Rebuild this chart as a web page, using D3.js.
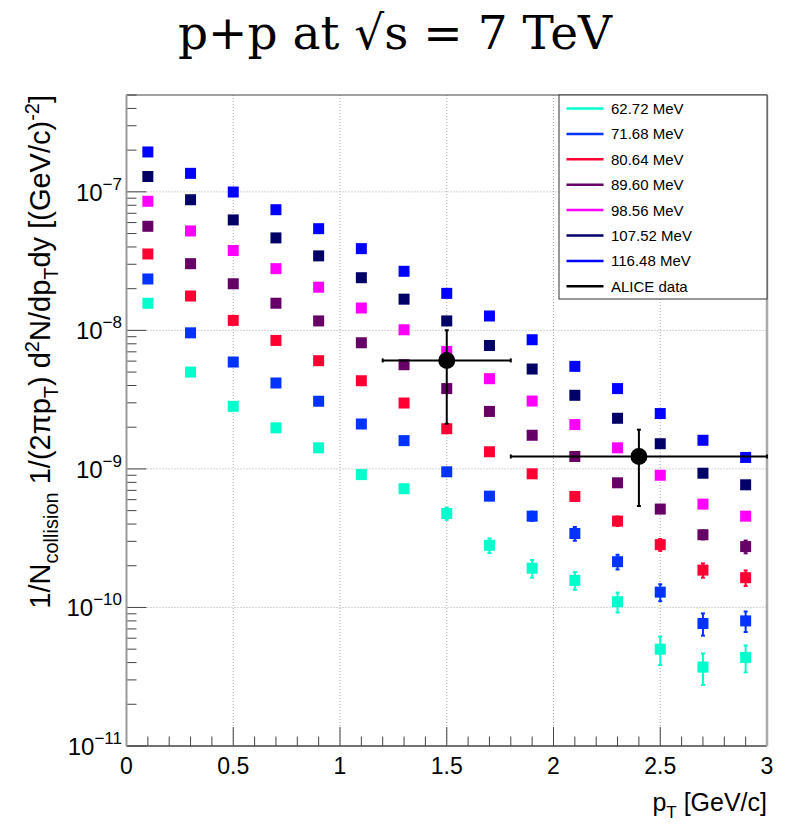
<!DOCTYPE html>
<html>
<head>
<meta charset="utf-8">
<script src="https://cdn.jsdelivr.net/npm/d3@7"></script>
<style>
  html, body { margin: 0; padding: 0; background: #fff; }
  svg { display: block; }
</style>
</head>
<body>
<div id="chart"></div>
<script>
// pT bin centres [GeV/c]
const pt = [0.1, 0.3, 0.5, 0.7, 0.9, 1.1, 1.3, 1.5, 1.7, 1.9, 2.1, 2.3, 2.5, 2.7, 2.9];

const labels = ["62.72 MeV", "71.68 MeV", "80.64 MeV", "89.60 MeV", "98.56 MeV", "107.52 MeV", "116.48 MeV"];
const colors = ["#00ffcc", "#0033ff", "#ff0033", "#660066", "#ff00ff", "#000066", "#0000ff"];

// yields per temperature
const y6272 = [1.57e-8, 5.0e-9, 2.83e-9, 1.98e-9, 1.42e-9, 9.1e-10, 7.19e-10, 4.77e-10, 2.81e-10, 1.92e-10, 1.57e-10, 1.10e-10, 5.0e-11, 3.71e-11, 4.36e-11];
const y7168 = [2.35e-8, 9.6e-9, 5.91e-9, 4.17e-9, 3.08e-9, 2.11e-9, 1.60e-9, 9.53e-10, 6.36e-10, 4.56e-10, 3.42e-10, 2.14e-10, 1.29e-10, 7.66e-11, 8.0e-11];
const y8064 = [3.56e-8, 1.77e-8, 1.18e-8, 8.46e-9, 6.04e-9, 4.33e-9, 2.99e-9, 1.95e-9, 1.33e-9, 9.22e-10, 6.33e-10, 4.20e-10, 2.84e-10, 1.86e-10, 1.64e-10];
const y8960 = [5.64e-8, 3.03e-8, 2.17e-8, 1.57e-8, 1.17e-8, 8.14e-9, 5.65e-9, 3.80e-9, 2.60e-9, 1.75e-9, 1.23e-9, 7.94e-10, 5.13e-10, 3.35e-10, 2.75e-10];
const y9856 = [8.55e-8, 5.22e-8, 3.77e-8, 2.79e-8, 2.05e-8, 1.45e-8, 1.01e-8, 7.05e-9, 4.48e-9, 3.09e-9, 2.09e-9, 1.42e-9, 9.0e-10, 5.57e-10, 4.56e-10];
const y10752 = [1.29e-7, 8.77e-8, 6.27e-8, 4.65e-8, 3.45e-8, 2.40e-8, 1.68e-8, 1.17e-8, 7.78e-9, 5.26e-9, 3.40e-9, 2.32e-9, 1.52e-9, 9.31e-10, 7.68e-10];
const y11648 = [1.94e-7, 1.36e-7, 9.97e-8, 7.43e-8, 5.42e-8, 3.89e-8, 2.67e-8, 1.85e-8, 1.27e-8, 8.56e-9, 5.50e-9, 3.80e-9, 2.51e-9, 1.61e-9, 1.21e-9];

// statistical errors (absolute)
const e6272 = [1.6e-10, 1.0e-10, 8.5e-11, 6e-11, 5.7e-11, 4.6e-11, 4.3e-11, 4.8e-11, 3.4e-11, 2.8e-11, 2.3e-11, 1.8e-11, 1.15e-11, 9.5e-12, 9.6e-12];
const e7168 = [2e-10, 1.2e-10, 1e-10, 9e-11, 8e-11, 6e-11, 5.5e-11, 4.5e-11, 4e-11, 3.5e-11, 3.9e-11, 2.6e-11, 1.8e-11, 1.4e-11, 1.35e-11];
const e8064 = [2.5e-10, 1.7e-10, 1.4e-10, 1.2e-10, 1e-10, 8.5e-11, 7e-11, 5.5e-11, 4.5e-11, 4e-11, 3.5e-11, 3.3e-11, 2.8e-11, 2.2e-11, 2.1e-11];
const e8960 = [3e-10, 2.2e-10, 1.9e-10, 1.6e-10, 1.4e-10, 1.2e-10, 1e-10, 8e-11, 6.5e-11, 5.5e-11, 4.5e-11, 3.7e-11, 3e-11, 2.5e-11, 2.9e-11];
const e9856 = [4e-10, 3e-10, 2.5e-10, 2.1e-10, 1.8e-10, 1.5e-10, 1.2e-10, 1e-10, 8e-11, 6.5e-11, 5.5e-11, 4.5e-11, 3.8e-11, 3e-11, 2.8e-11];
const e10752 = [5e-10, 4e-10, 3.3e-10, 2.8e-10, 2.4e-10, 2e-10, 1.7e-10, 1.4e-10, 1.1e-10, 9e-11, 7e-11, 6e-11, 5e-11, 4e-11, 3.6e-11];
const e11648 = [6e-10, 5e-10, 4e-10, 3.4e-10, 2.9e-10, 2.4e-10, 2e-10, 1.7e-10, 1.4e-10, 1.1e-10, 9e-11, 7.5e-11, 6e-11, 4.8e-11, 4.2e-11];

// ALICE measurement
const alicePt = [1.5, 2.4];
const alicePtErr = [0.3, 0.6];
const aliceY = [6.07e-9, 1.23e-9];
const aliceYErr = [3.95e-9, 6.9e-10];

const xTicks = [0, 0.5, 1, 1.5, 2, 2.5, 3];
const yDecades = [-11, -10, -9, -8, -7];

const yields = [y6272, y7168, y8064, y8960, y9856, y10752, y11648];
const errors = [e6272, e7168, e8064, e8960, e9856, e10752, e11648];
const series = yields.map((vals, i) => ({
  label: labels[i],
  color: colors[i],
  points: pt.map((x, j) => ({ x, y: vals[j], e: errors[i][j] }))
}));

const width = 785, height = 824;
const margin = { top: 95, right: 18, bottom: 78, left: 126.5 };
const fontSans = "'Liberation Sans', Arial, sans-serif";

const svg = d3.select("#chart").append("svg")
  .attr("width", width)
  .attr("height", height);

const x = d3.scaleLinear().domain([0, 3]).range([margin.left, width - margin.right]);
const y = d3.scaleLog().domain([1e-11, 5e-7]).range([height - margin.bottom, margin.top]);
const [x0, x1] = x.range();
const [yb, yt] = y.range();

// Title
svg.append("text")
  .attr("x", 395).attr("y", 49)
  .attr("text-anchor", "middle")
  .style("font-family", "'DejaVu Serif', serif")
  .style("font-size", "47px")
  .text("p+p at \u221As = 7 TeV");

// Gridlines - dotted
const grid = svg.append("g").attr("stroke", "#aaa").attr("stroke-width", 1).attr("stroke-dasharray", "1,2");
grid.selectAll(".gx").data(xTicks.slice(1, -1)).join("line")
  .attr("x1", d => x(d)).attr("x2", d => x(d)).attr("y1", yt).attr("y2", yb);
grid.selectAll(".gy").data(yDecades.slice(1)).join("line")
  .attr("x1", x0).attr("x2", x1).attr("y1", d => y(Math.pow(10, d))).attr("y2", d => y(Math.pow(10, d)));

// Ticks
const ticks = svg.append("g").attr("stroke", "#444").attr("stroke-width", 1);
const xMinor = d3.range(0, 31).map(i => i / 10);
ticks.selectAll(".tx").data(xMinor).join("line")
  .attr("x1", d => x(d)).attr("x2", d => x(d))
  .attr("y1", yb).attr("y2", d => yb - (Math.round(d * 10) % 5 === 0 ? 19 : 9.5));

const yMinor = [];
yDecades.forEach(p => { for (let m = 1; m <= 9; m++) { const v = m * Math.pow(10, p); if (v <= 5e-7) yMinor.push({ v, major: m === 1 }); } });
ticks.selectAll(".ty").data(yMinor).join("line")
  .attr("x1", x0).attr("x2", d => x0 + (d.major ? 20 : 10))
  .attr("y1", d => y(d.v)).attr("y2", d => y(d.v));

// Frame
svg.append("line").attr("x1", x0).attr("x2", x1).attr("y1", yt).attr("y2", yt).attr("stroke", "#444").attr("stroke-width", 1);
svg.append("line").attr("x1", x0).attr("x2", x1).attr("y1", yb).attr("y2", yb).attr("stroke", "#444").attr("stroke-width", 1.5);
svg.append("line").attr("x1", x0).attr("x2", x0).attr("y1", yt).attr("y2", yb).attr("stroke", "#999").attr("stroke-width", 2);
svg.append("line").attr("x1", x1).attr("x2", x1).attr("y1", yt).attr("y2", yb).attr("stroke", "#aaa").attr("stroke-width", 2.5);

// X tick labels
svg.append("g").selectAll("text").data(xTicks).join("text")
  .attr("x", d => x(d)).attr("y", 774)
  .attr("text-anchor", "middle")
  .style("font-family", fontSans).style("font-size", "23px")
  .text(d => d);

// Y tick labels: 10^n
const yLab = svg.append("g").selectAll("text").data(yDecades).join("text")
  .attr("x", 122).attr("y", d => y(Math.pow(10, d)) + 9)
  .attr("text-anchor", "end")
  .style("font-family", fontSans).style("font-size", "24px");
yLab.append("tspan").text("10");
yLab.append("tspan").attr("dy", -11).style("font-size", "17px").text(d => "\u2212" + (-d));

// X axis title
const xt = svg.append("text").attr("x", x1).attr("y", 811).attr("text-anchor", "end")
  .style("font-family", fontSans).style("font-size", "25px");
xt.append("tspan").text("p");
xt.append("tspan").attr("dy", 7).style("font-size", "17px").text("T");
xt.append("tspan").attr("dy", -7).text(" [GeV/c]");

// Y axis title
const yTitle = svg.append("text").attr("transform", `translate(50,${yt}) rotate(-90)`)
  .attr("text-anchor", "end")
  .style("font-family", fontSans).style("font-size", "29px");
const parts = [
  ["1/N", 0], ["collision", 1], [" 1/(2\u03C0p", 0], ["T", 1], [") d", 0], ["2", -1],
  ["N/dp", 0], ["T", 1], ["dy [(GeV/c)", 0], ["-2", -1], ["]", 0]
];
let cur = 0;
parts.forEach(([t, s]) => {
  const off = s === 1 ? 8 : s === -1 ? -11 : 0;
  yTitle.append("tspan").attr("dy", off - cur).style("font-size", s ? "20px" : "29px").text(t);
  cur = off;
});

// Model series: error bars + square markers
const plot = svg.append("g");
series.forEach(s => {
  const g = plot.append("g").attr("stroke", s.color).attr("fill", s.color);
  g.selectAll(".eb").data(s.points).join("line")
    .attr("x1", d => x(d.x)).attr("x2", d => x(d.x))
    .attr("y1", d => y(d.y + d.e)).attr("y2", d => y(d.y - d.e))
    .attr("stroke-width", 2);
  g.selectAll(".cap").data(s.points.flatMap(d => [d.y + d.e, d.y - d.e].map(v => ({ x: d.x, v })))).join("line")
    .attr("x1", d => x(d.x) - 2).attr("x2", d => x(d.x) + 2)
    .attr("y1", d => y(d.v)).attr("y2", d => y(d.v))
    .attr("stroke-width", 2);
  g.selectAll("rect").data(s.points).join("rect")
    .attr("x", d => x(d.x) - 5.5).attr("y", d => y(d.y) - 5.5)
    .attr("width", 11).attr("height", 11)
    .attr("stroke", "none");
});

// ALICE points
const alice = alicePt.map((p, i) => ({ x: p, xe: alicePtErr[i], y: aliceY[i], ye: aliceYErr[i] }));
const ag = svg.append("g").attr("stroke", "#000").attr("stroke-width", 2);
alice.forEach(d => {
  const xa = x(Math.max(0, d.x - d.xe)), xb = x(Math.min(3, d.x + d.xe));
  ag.append("line").attr("x1", xa).attr("x2", xb).attr("y1", y(d.y)).attr("y2", y(d.y));
  ag.append("line").attr("x1", x(d.x)).attr("x2", x(d.x)).attr("y1", y(d.y + d.ye)).attr("y2", y(d.y - d.ye));
  [xa, xb].forEach(v => ag.append("line").attr("x1", v).attr("x2", v).attr("y1", y(d.y) - 2).attr("y2", y(d.y) + 2));
  [d.y + d.ye, d.y - d.ye].forEach(v => ag.append("line").attr("x1", x(d.x) - 2).attr("x2", x(d.x) + 2).attr("y1", y(v)).attr("y2", y(v)));
  ag.append("circle").attr("cx", x(d.x)).attr("cy", y(d.y)).attr("r", 8.5).attr("fill", "#000").attr("stroke", "none");
});

// Legend
const lg = svg.append("g");
lg.append("rect").attr("x", 559).attr("y", yt).attr("width", x1 - 559).attr("height", 204)
  .attr("fill", "#fff").attr("stroke", "#333").attr("stroke-width", 1);
const legendItems = series.map(s => ({ label: s.label, color: s.color })).concat([{ label: "ALICE data", color: "#000" }]);
const li = lg.selectAll(".li").data(legendItems).join("g")
  .attr("transform", (d, i) => `translate(0,${108.5 + i * 25.4})`);
li.append("line").attr("x1", 566.5).attr("x2", 603.5).attr("stroke", d => d.color).attr("stroke-width", 2.5);
li.append("text").attr("x", 611).attr("y", 5.5)
  .style("font-family", fontSans).style("font-size", "15px")
  .text(d => d.label);
</script>
</body>
</html>
